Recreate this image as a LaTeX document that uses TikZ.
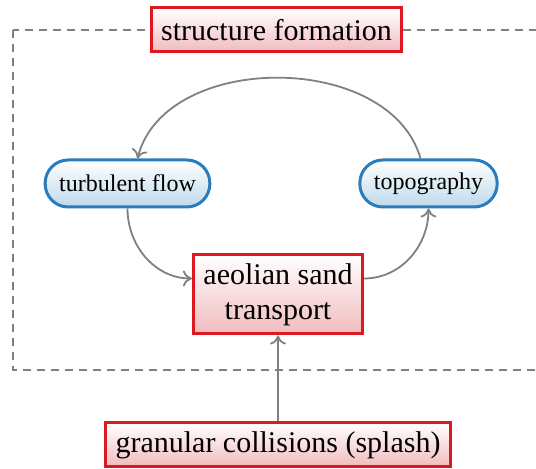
\documentclass[tikz,border=0pt]{standalone}
\usepackage{fontspec}
\setmainfont{Liberation Serif}
\usetikzlibrary{arrows.meta}
\newlength{\du}
\setlength{\du}{0.5pt}

\begin{document}
\begin{tikzpicture}[
  redbox/.style={draw=boxred, line width=1.5pt, top color=white, bottom color=pinkfill,
    inner xsep=5pt, minimum height=22pt, align=center, font=\fontsize{15}{17.5}\selectfont},
  bluebox/.style={draw=boxblue, line width=1.5pt, top color=white, bottom color=bluefill,
    rounded corners=11.5pt, inner xsep=7pt, minimum height=23.5pt, font=\fontsize{12}{14}\selectfont},
  link/.style={draw=linegray, line width=0.9pt, -{To[length=4.5pt,width=8pt]}}
]
\definecolor{boxred}{rgb}{0.863, 0.098, 0.125}
\definecolor{pinkfill}{rgb}{0.945, 0.733, 0.745}
\definecolor{boxblue}{rgb}{0.165, 0.490, 0.729}
\definecolor{bluefill}{rgb}{0.745, 0.855, 0.925}
\definecolor{linegray}{rgb}{0.500, 0.500, 0.500}
\useasboundingbox (0,0) rectangle (536\du,-469\du);

% dashed frame, runs out on the right
\draw[linegray, line width=0.8pt, dash pattern=on 8\du off 6\du] (13\du,-30\du) rectangle (600\du,-370\du);

\node[redbox] (struct) at (276.5\du,-30\du) {structure formation};
\node[bluebox] (turb) at (127.5\du,-183.5\du) {turbulent flow};
\node[bluebox] (topo) at (428.5\du,-183.5\du) {topography};
\node[redbox, minimum height=39.5pt] (aeol) at (278\du,-294.5\du) {aeolian sand\\transport};
\node[redbox] (gran) at (278\du,-445\du) {granular collisions (splash)};

% feedback loop
\draw[link] ([xshift=-8\du]topo.north) .. controls (390\du,-51\du) and (165\du,-51\du) .. ([xshift=10\du]turb.north);
\draw[link] (turb.south) to[out=-90,in=180] ([yshift=16\du]aeol.west);
\draw[link] ([yshift=16\du]aeol.east) to[out=0,in=-90] (topo.south);
\draw[link] (gran) -- (aeol);
\end{tikzpicture}
\end{document}
